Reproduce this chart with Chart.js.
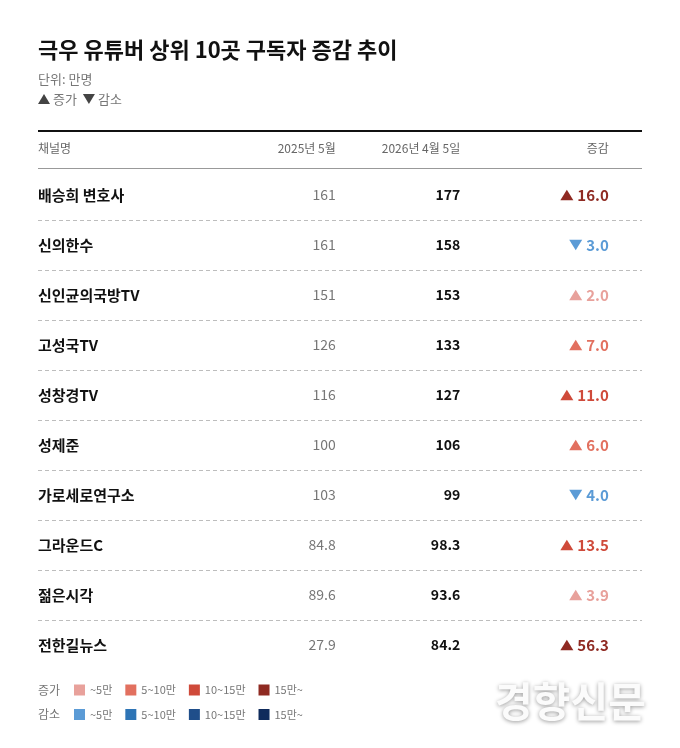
<!DOCTYPE html>
<html><head><meta charset="utf-8">
<script src="https://cdn.jsdelivr.net/npm/chart.js@4/dist/chart.umd.min.js"></script>
<style>html,body{margin:0;padding:0;background:#fff}canvas{display:block}</style>
</head><body>
<canvas id="c" width="680" height="748"></canvas>
<script>
// ---- data ----
const channels = ['배승희 변호사','신의한수','신인균의국방TV','고성국TV','성창경TV','성제준','가로세로연구소','그라운드C','젊은시각','전한길뉴스'];
const subs2025 = [161, 161, 151, 126, 116, 100, 103, 84.8, 89.6, 27.9];
const subs2026 = [177, 158, 153, 133, 127, 106, 99, 98.3, 93.6, 84.2];
const changes  = [16.0, -3.0, 2.0, 7.0, 11.0, 6.0, -4.0, 13.5, 3.9, 56.3];
const headers  = ['채널명', '2025년 5월', '2026년 4월 5일', '증감'];
const legendBins = ['~5만', '5~10만', '10~15만', '15만~'];
const titleText = '극우 유튜버 상위 10곳 구독자 증감 추이';
const unitText = '단위: 만명';

// ---- styles ----
const FONT = "'Noto Sans CJK KR','Noto Sans',sans-serif";
const upColors   = ['#e8a19b', '#e2705f', '#cf4a3a', '#8f2a22'];
const downColors = ['#5b9bd6', '#2e75b6', '#1f4e8a', '#0f2b5c'];
const COL_X = [49.3, 69.9, 94.5]; // right-edge anchors of the value columns on x scale (0-100)

function bin(v){ const a = Math.abs(v); return a < 5 ? 0 : a < 10 ? 1 : a < 15 ? 2 : 3; }
function changeColor(v){ return (v >= 0 ? upColors : downColors)[bin(v)]; }

function tri(ctx, cx, cy, w, h, up, color){
  ctx.save();
  ctx.fillStyle = color;
  ctx.beginPath();
  if (up){ ctx.moveTo(cx - w/2, cy + h/2); ctx.lineTo(cx + w/2, cy + h/2); ctx.lineTo(cx, cy - h/2); }
  else   { ctx.moveTo(cx - w/2, cy - h/2); ctx.lineTo(cx + w/2, cy - h/2); ctx.lineTo(cx, cy + h/2); }
  ctx.closePath(); ctx.fill(); ctx.restore();
}

const tablePlugin = {
  id: 'tablePlugin',
  beforeDraw(chart){
    const ctx = chart.ctx, ca = chart.chartArea;
    const L = ca.left, R = ca.right;
    ctx.save();
    ctx.textBaseline = 'middle';
    // title
    ctx.fillStyle = '#111';
    ctx.font = `bold 22px ${FONT}`;
    ctx.textAlign = 'left';
    ctx.fillText(titleText, L, 50);
    // unit
    ctx.fillStyle = '#777';
    ctx.font = `13px ${FONT}`;
    ctx.fillText(unitText, L, 79);
    // up/down key
    tri(ctx, L + 6, 99, 12, 10, true, '#444');
    ctx.fillStyle = '#777';
    ctx.fillText('증가', L + 15, 99);
    let x2 = L + 15 + ctx.measureText('증가').width + 6;
    tri(ctx, x2 + 6, 99, 12, 10, false, '#444');
    ctx.fillStyle = '#777';
    ctx.fillText('감소', x2 + 15, 99);
    // top thick rule
    ctx.fillStyle = '#111';
    ctx.fillRect(L, 130, R - L, 2);
    // header
    ctx.fillStyle = '#666';
    ctx.font = `12px ${FONT}`;
    ctx.textAlign = 'left';
    ctx.fillText(headers[0], L, 148);
    ctx.textAlign = 'right';
    const xs = chart.scales.x;
    for (let i = 0; i < 3; i++) ctx.fillText(headers[i+1], xs.getPixelForValue(COL_X[i]), 148);
    // header bottom rule
    ctx.fillStyle = '#999';
    ctx.fillRect(L, ca.top - 2, R - L, 1);
    ctx.restore();
  },
  afterDatasetsDraw(chart){
    const ctx = chart.ctx;
    ctx.save();
    ctx.textBaseline = 'middle';
    ctx.textAlign = 'right';
    const m0 = chart.getDatasetMeta(0), m1 = chart.getDatasetMeta(1), m2 = chart.getDatasetMeta(2);
    m0.data.forEach((el, i) => {
      ctx.fillStyle = '#777'; ctx.font = `14px ${FONT}`;
      ctx.fillText(String(subs2025[i]), el.x, el.y);
    });
    m1.data.forEach((el, i) => {
      ctx.fillStyle = '#111'; ctx.font = `bold 14px ${FONT}`;
      ctx.fillText(String(subs2026[i]), el.x, el.y);
    });
    m2.data.forEach((el, i) => {
      const v = changes[i], col = changeColor(v);
      const t = Math.abs(v).toFixed(1);
      ctx.fillStyle = col; ctx.font = `bold 15px ${FONT}`;
      ctx.fillText(t, el.x, el.y);
      const tw = ctx.measureText(t).width;
      tri(ctx, el.x - tw - 4 - 6.5, el.y, 13, 10.5, v >= 0, col);
    });
    ctx.restore();
  },
  afterDraw(chart){
    const ctx = chart.ctx, ca = chart.chartArea;
    ctx.save();
    ctx.textBaseline = 'middle';
    ctx.textAlign = 'left';
    const rows = [['증가', upColors, 690], ['감소', downColors, 714.5]];
    rows.forEach(([lab, cols, y]) => {
      ctx.fillStyle = '#777'; ctx.font = `12px ${FONT}`;
      ctx.fillText(lab, ca.left, y);
      let x = 74;
      ctx.font = `11px ${FONT}`;
      legendBins.forEach((b, k) => {
        ctx.fillStyle = cols[k];
        ctx.fillRect(x, y - 5.5, 11, 11);
        ctx.fillStyle = '#777';
        ctx.fillText(b, x + 16, y);
        x += 16 + ctx.measureText(b).width + 13;
      });
    });
    // watermark
    ctx.font = `bold 41px ${FONT}`;
    ctx.textAlign = 'right';
    ctx.shadowColor = 'rgba(0,0,0,0.4)';
    ctx.shadowBlur = 4;
    ctx.shadowOffsetY = 1.5;
    ctx.fillStyle = '#fbfbfb';
    ctx.fillText('경향신문', 646, 701);
    ctx.restore();
  }
};

const colData = (k) => channels.map(c => ({ x: COL_X[k], y: c }));

new Chart(document.getElementById('c'), {
  type: 'scatter',
  data: {
    datasets: [
      { label: headers[1], data: colData(0), pointRadius: 0 },
      { label: headers[2], data: colData(1), pointRadius: 0 },
      { label: headers[3], data: colData(2), pointRadius: 0 }
    ]
  },
  options: {
    responsive: false,
    animation: false,
    events: [],
    layout: { padding: { left: 38, right: 38, top: 170, bottom: 78 } },
    plugins: { legend: { display: false }, tooltip: { enabled: false } },
    scales: {
      x: { type: 'linear', min: 0, max: 100, display: false },
      y: {
        type: 'category',
        labels: channels,
        position: 'left',
        offset: true,
        grid: {
          offset: true,
          drawTicks: false,
          color: (c) => (c.type !== 'tick' || c.index === 0 || c.index >= channels.length) ? 'rgba(0,0,0,0)' : '#bdbdbd',
          lineWidth: 1
        },
        border: { display: false, dash: [4, 3] },
        ticks: {
          mirror: true,
          padding: 0,
          crossAlign: 'near',
          color: '#111',
          font: { family: FONT, size: 15, weight: 'bold' }
        },
        afterFit: (s) => { s.width = 0; }
      }
    }
  },
  plugins: [tablePlugin]
});
</script>
</body></html>
